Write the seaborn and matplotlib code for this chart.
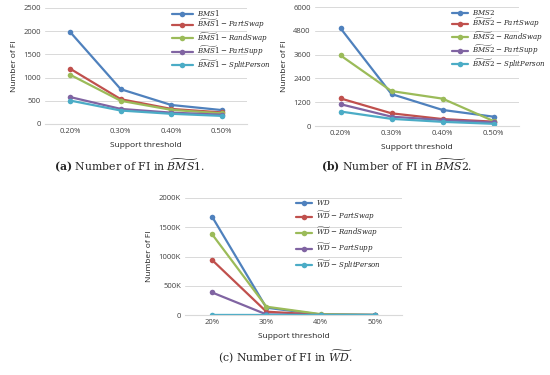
import pandas as pd
import seaborn as sns
import matplotlib.pyplot as plt
from matplotlib.ticker import FuncFormatter

# values
thr_small = ['0.20%', '0.30%', '0.40%', '0.50%']
thr_wd = ['20%', '30%', '40%', '50%']

bms1 = [1980, 750, 410, 300]
bms1_partswap = [1190, 535, 325, 250]
bms1_randswap = [1060, 500, 305, 230]
bms1_partsupp = [580, 325, 245, 200]
bms1_split = [505, 290, 220, 175]

bms2 = [4930, 1610, 810, 470]
bms2_partswap = [1390, 640, 350, 220]
bms2_randswap = [3560, 1760, 1380, 250]
bms2_partsupp = [1100, 470, 300, 180]
bms2_split = [730, 360, 210, 110]

wd = [1680000, 125000, 8000, 1000]
wd_partswap = [940000, 57000, 4000, 500]
wd_randswap = [1380000, 142000, 15000, 2000]
wd_partsupp = [385000, 10000, 1000, 200]
wd_split = [1000, 500, 200, 100]

colors = ['#4F81BD', '#C0504D', '#9BBB59', '#8064A2', '#4BACC6']


def long_df(x, series):
    rows = []
    for name, vals in series:
        for xi, v in zip(x, vals):
            rows.append({'thr': xi, 'val': v, 'series': name})
    return pd.DataFrame(rows)


sns.set_style('white')
plt.rcParams['font.family'] = ['Open Sans', 'DejaVu Sans']
plt.rcParams['mathtext.fontset'] = 'dejavuserif'

fig = plt.figure(figsize=(5.5, 3.75), dpi=100)
W, H = 550, 375


def add_ax(x0, x1, y0, y1):
    return fig.add_axes([x0 / W, 1 - y1 / H, (x1 - x0) / W, (y1 - y0) / H])


def style_ax(ax, ylim, yticks, fmt=None):
    ax.set_xlim(-0.5, 3.5)
    ax.set_ylim(*ylim)
    ax.set_yticks(yticks)
    if fmt:
        ax.yaxis.set_major_formatter(FuncFormatter(fmt))
    ax.grid(axis='y', color='#d9d9d9', linewidth=0.7)
    ax.set_axisbelow(True)
    for s in ['top', 'right', 'left']:
        ax.spines[s].set_visible(False)
    ax.spines['bottom'].set_color('#d9d9d9')
    ax.spines['bottom'].set_linewidth(0.8)
    ax.tick_params(axis='both', length=0, labelsize=5.5, colors='#404040', pad=3)
    ax.set_ylabel('Number of FI', fontsize=6, color='#202020', labelpad=4)
    ax.set_xlabel('Support threshold', fontsize=6, color='#202020', labelpad=5)


def draw(ax, x, series):
    df = long_df(x, series)
    sns.lineplot(data=df, x='thr', y='val', hue='series', palette=colors,
                 marker='o', markersize=4, markeredgewidth=0, linewidth=1.6,
                 sort=False, ax=ax)


def legend(ax, x, y, spacing, hl):
    ax.legend(frameon=False, fontsize=5, loc='upper left', bbox_to_anchor=(x / W, 1 - y / H),
              bbox_transform=fig.transFigure, handlelength=hl, handletextpad=0.6,
              labelspacing=spacing, borderaxespad=0, borderpad=0)


def names(base, tilde):
    parts = ['PartSwap', 'RandSwap', 'PartSupp', 'SplitPerson']
    return [r'$%s$' % base] + [r'$%s\;{-}\;%s$' % (tilde, p) for p in parts]


# (a)
ax1 = add_ax(45, 247, 8, 124)
names1 = names('BMS1', r'\widetilde{BMS}1')
draw(ax1, thr_small, list(zip(names1, [bms1, bms1_partswap, bms1_randswap, bms1_partsupp, bms1_split])))
style_ax(ax1, (0, 2500), range(0, 2501, 500))
legend(ax1, 172, 8, 0.0, 3.0)

# (b)
ax2 = add_ax(315, 519, 7, 126)
names2 = names('BMS2', r'\widetilde{BMS}2')
draw(ax2, thr_small, list(zip(names2, [bms2, bms2_partswap, bms2_randswap, bms2_partsupp, bms2_split])))
style_ax(ax2, (0, 6000), range(0, 6001, 1200))
legend(ax2, 452, 8, 0.0, 2.3)

# (c)
ax3 = add_ax(185, 402, 198, 315)
names3 = names('WD', r'\widetilde{WD}')
draw(ax3, thr_wd, list(zip(names3, [wd, wd_partswap, wd_randswap, wd_partsupp, wd_split])))
style_ax(ax3, (0, 2000000), range(0, 2000001, 500000),
         fmt=lambda v, p: '0' if v == 0 else f'{int(v / 1000)}K')
legend(ax3, 296, 198, 0.4, 2.3)

# captions
cap = dict(fontsize=7.8, family='DejaVu Serif', ha='center', va='center')
fig.text(129 / W, 1 - 166 / H, r'$\mathbf{(a)}$ Number of FI in $\widetilde{BMS}1$.', **cap)
fig.text(397 / W, 1 - 166 / H, r'$\mathbf{(b)}$ Number of FI in $\widetilde{BMS}2$.', **cap)
fig.text(285 / W, 1 - 357 / H, r'(c) Number of FI in $\widetilde{WD}$.', **cap)

fig.savefig('out.png', dpi=100)
